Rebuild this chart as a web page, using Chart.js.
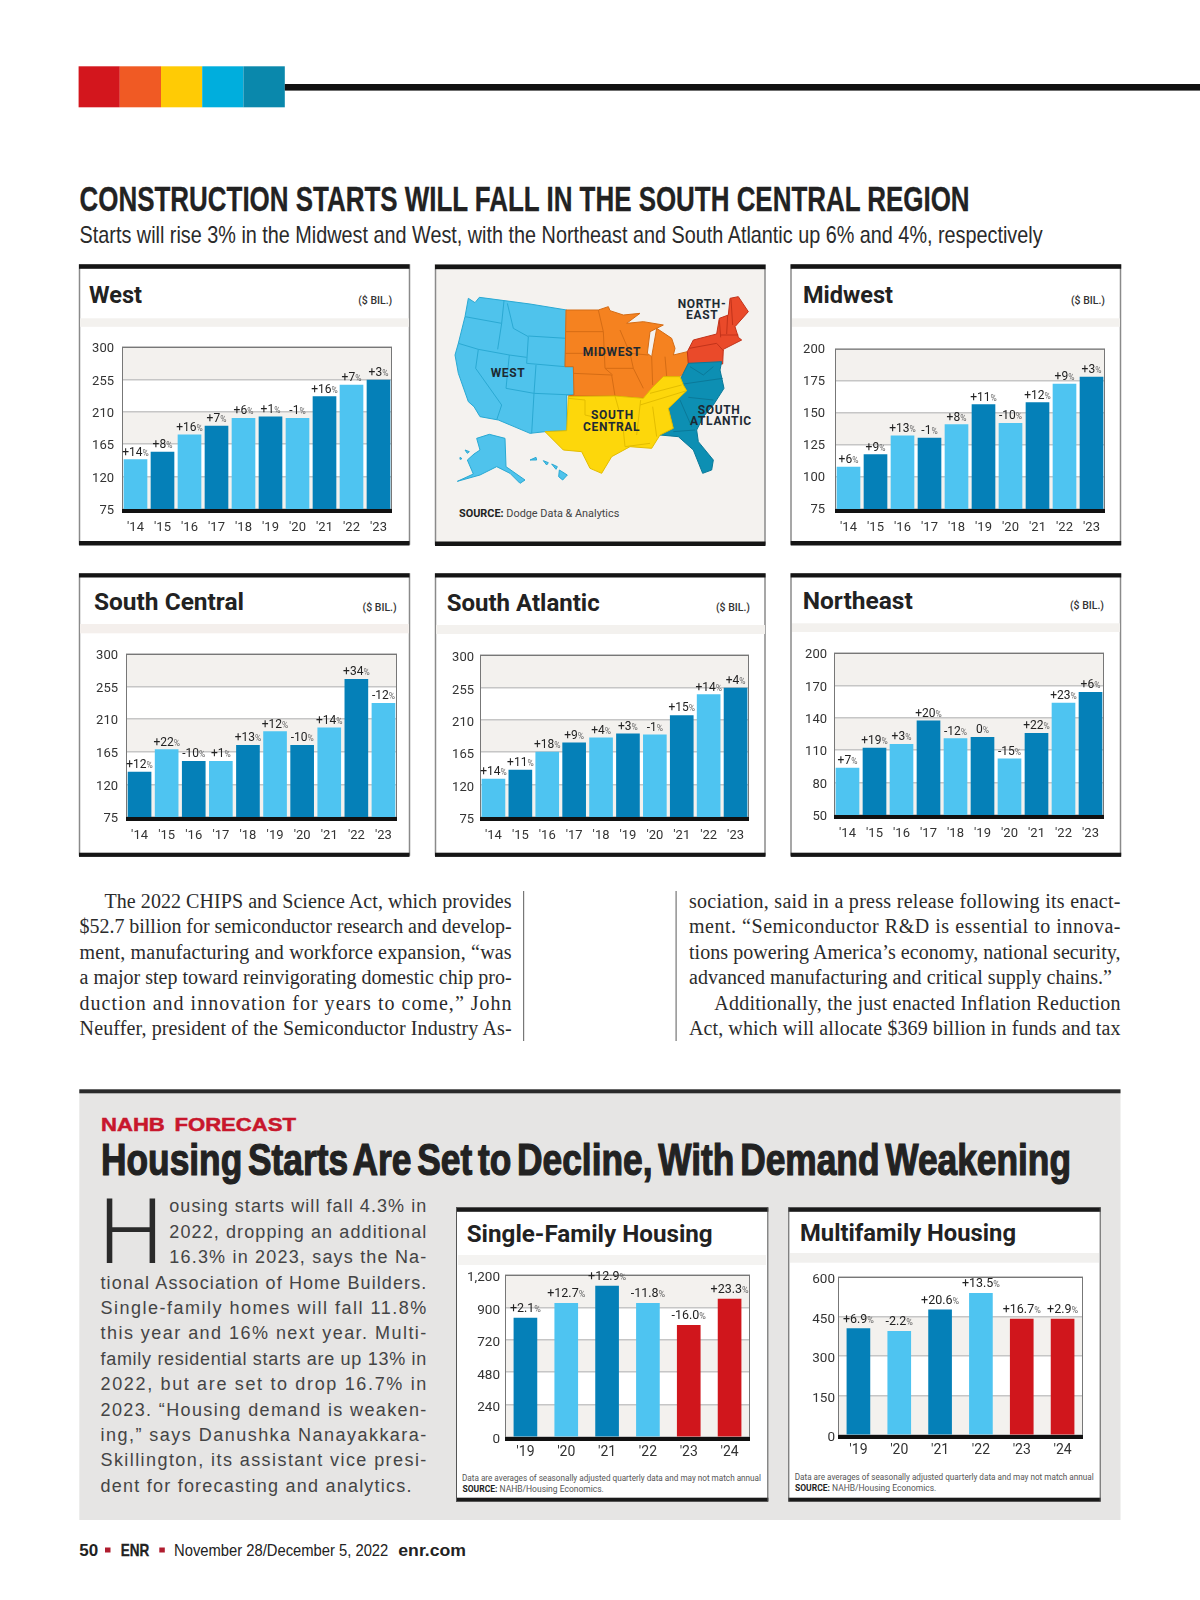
<!DOCTYPE html>
<html>
<head>
<meta charset="utf-8">
<title>Construction starts</title>
<script src="https://cdn.jsdelivr.net/npm/chart.js@4/dist/chart.umd.js"></script>
<style>
  html,body{margin:0;background:#fff;}
  #page{position:relative;width:1200px;height:1600px;overflow:hidden;background:#fff;}
  #page svg{position:absolute;left:0;top:0;}
  canvas{position:absolute;}
  .narrow{font-family:"Liberation Sans Narrow","Liberation Sans",sans-serif;}
  .sans{font-family:"Liberation Sans",sans-serif;}
  .serif{font-family:"Liberation Serif",serif;font-size:20px;fill:#2b2b2b;}
  .ttl{font-family:Roboto,sans-serif;font-weight:700;font-size:24px;fill:#222;}
  .bil{font-family:Roboto,sans-serif;font-weight:500;font-size:10.5px;fill:#333;text-anchor:end;}
  .body{font-family:"Liberation Sans",sans-serif;font-size:18px;fill:#444;}
  .note{font-family:Roboto,sans-serif;font-size:8.5px;fill:#555;}
  .map{font-family:Roboto,sans-serif;font-weight:700;font-size:36px;fill:#1d2a33;letter-spacing:2px;}
  .wst{fill:#4fc3ec;stroke:#2aa9d3;stroke-width:3;stroke-linejoin:round;}
  .mid{fill:#f58220;stroke:#d56c14;stroke-width:3;stroke-linejoin:round;}
  .nea{fill:#ea4a2a;stroke:#c2331a;stroke-width:3;stroke-linejoin:round;}
  .sat{fill:#0d8fb3;stroke:#0a7999;stroke-width:3;stroke-linejoin:round;}
  .sce{fill:#fdd70b;stroke:#e3bd00;stroke-width:3;stroke-linejoin:round;}
  .ln{fill:none;}
</style>
</head>
<body>
<div id="page">
<svg width="1200" height="1600" viewBox="0 0 1200 1600">
  <!-- top colour strip -->
  <rect x="78.6" y="66.3" width="41.2" height="41" fill="#d3161d"/>
  <rect x="119.8" y="66.3" width="41.2" height="41" fill="#f05a24"/>
  <rect x="161" y="66.3" width="41.2" height="41" fill="#ffcb05"/>
  <rect x="202.2" y="66.3" width="41.2" height="41" fill="#00aedd"/>
  <rect x="243.4" y="66.3" width="41.4" height="41" fill="#0a88ac"/>
  <rect x="284.8" y="84" width="915.2" height="6.6" fill="#111"/>

  <text class="narrow" x="79.6" y="211" font-size="34.5" font-weight="700" fill="#222" stroke="#222" stroke-width=".3" textLength="890" lengthAdjust="spacingAndGlyphs">CONSTRUCTION STARTS WILL FALL IN THE SOUTH CENTRAL REGION</text>
  <text class="narrow" x="79.6" y="243" font-size="24" fill="#2a2a2a" textLength="963" lengthAdjust="spacingAndGlyphs">Starts will rise 3% in the Midwest and West, with the Northeast and South Atlantic up 6% and 4%, respectively</text>

  <!-- West panel -->
  <rect x="79.5" y="265" width="330" height="279" fill="#fff" stroke="#8a8a8a" stroke-width="1.5"/>
  <rect x="79" y="264.3" width="330.5" height="4.5" fill="#151515"/>
  <rect x="79" y="541" width="330.5" height="4.5" fill="#151515"/>
  <rect x="80" y="318.3" width="329" height="8.5" fill="#f3f1ee"/>
  <text class="ttl" x="89" y="303" textLength="53" lengthAdjust="spacingAndGlyphs">West</text>
  <text class="bil" x="392.3" y="303.5">($ BIL.)</text>

  <!-- map panel -->
  <rect x="435.5" y="265" width="329.5" height="279" fill="#f4f2ef" stroke="#8a8a8a" stroke-width="1.5"/>
  <rect x="435" y="264.7" width="330.5" height="4.5" fill="#151515"/>
  <rect x="435" y="541.5" width="330.5" height="4.5" fill="#151515"/>
  <svg x="430" y="260" width="350" height="290" viewBox="0 0 1050 870">
    <path class="wst" d="M115,115 L135,128 L148,112 L300,132 L410,150 L405,320 L430,320 L432,405 L410,405 L410,512 L345,515 L300,520 L205,480 L150,470 L132,440 L115,425 L85,340 L75,285 L85,250 L105,170 Z"/>
    <path class="wst ln" d="M105,170 L215,190 M222,122 L215,190 L203,268 M232,130 L250,205 L295,230 L290,310 M85,250 L145,268 L238,285 L290,292 M295,228 L410,235 M290,310 L405,320 M318,315 L312,400 L432,405 M238,285 L228,385 M145,268 L137,325 L215,435 L200,480 M228,385 L312,400 L305,520"/>
    <path class="mid" d="M408,150 L505,150 L535,140 L540,152 L580,165 L630,160 L590,190 L640,185 L700,195 L660,215 L652,280 L665,290 L680,205 L725,235 L735,265 L730,285 L772,275 L775,310 L760,340 L750,350 L700,350 L665,385 L645,415 L555,408 L415,408 L432,405 L430,320 L405,320 Z"/>
    <path class="mid ln" d="M408,215 L520,215 M405,280 L530,280 M430,340 L545,345 L555,408 M505,150 L520,215 L525,325 L548,345 M525,325 L610,325 L640,385 M570,210 L600,280 L610,325 M600,280 L655,285 M665,290 L668,375 M705,290 L710,348"/>
    <path class="nea" d="M772,275 L790,240 L860,222 L868,175 L895,165 L900,115 L925,110 L955,155 L915,200 L925,232 L935,240 L880,268 L878,312 L775,310 Z"/>
    <path class="nea ln" d="M778,265 L860,250 L880,272 M868,180 L872,232 M893,165 L890,222 M903,118 L908,195 M872,225 L925,225"/>
    <path class="sat" d="M775,310 L875,305 L870,330 L882,385 L850,435 L820,470 L800,510 L805,545 L850,600 L845,630 L818,640 L790,570 L745,530 L690,525 L730,505 L715,445 L770,390 L750,360 L760,340 Z"/>
    <path class="sat ln" d="M760,372 L878,355 M780,320 L820,345 L850,320 M775,412 L850,420 M750,420 L785,500 M730,515 L795,510"/>
    <path class="sce" d="M415,410 L555,408 L640,415 L665,385 L700,350 L750,350 L760,375 L770,392 L715,445 L730,505 L690,525 L665,565 L600,560 L545,590 L515,640 L480,625 L455,575 L400,570 L345,515 L410,512 Z"/>
    <path class="sce ln" d="M415,415 L465,420 L465,465 L575,490 M555,408 L578,490 L585,560 L660,550 M632,420 L620,525 M630,435 L770,392 M668,440 L680,530 M660,400 L755,375"/>
    <path class="wst" d="M140,535 L178,523 L225,535 L228,620 L285,660 L270,670 L240,640 L200,620 L150,645 L82,664 L130,642 L112,600 L132,582 L150,570 Z"/>
    <path class="wst" d="M300,600 L318,592 L320,600 Z M340,602 L355,608 L350,615 Z M388,630 L412,645 L398,660 L386,650 Z M365,612 L382,620 L378,628 Z"/>
    <path class="wst" d="M105,570 L118,575 L112,580 Z M90,592 L96,596 L90,598 Z"/>
    <text class="map" x="743" y="143">NORTH-</text>
    <text class="map" x="768" y="176">EAST</text>
    <text class="map" x="182" y="350">WEST</text>
    <text class="map" x="458" y="289">MIDWEST</text>
    <text class="map" x="483" y="478">SOUTH</text>
    <text class="map" x="459" y="513">CENTRAL</text>
    <text class="map" x="803" y="461">SOUTH</text>
    <text class="map" x="780" y="496">ATLANTIC</text>
    <text x="87" y="770" font-family="Roboto,sans-serif" font-size="30" fill="#444" textLength="481" lengthAdjust="spacingAndGlyphs"><tspan font-weight="700" fill="#222">SOURCE:</tspan> Dodge Data &amp; Analytics</text>
  </svg>

  <!-- Midwest panel -->
  <rect x="791" y="265" width="329.5" height="279" fill="#fff" stroke="#8a8a8a" stroke-width="1.5"/>
  <rect x="790.7" y="264.3" width="330.5" height="4.5" fill="#151515"/>
  <rect x="790.7" y="541" width="330.5" height="4.5" fill="#151515"/>
  <rect x="792" y="318.3" width="328" height="8.5" fill="#f3f1ee"/>
  <text class="ttl" x="803" y="303" textLength="90" lengthAdjust="spacingAndGlyphs">Midwest</text>
  <text class="bil" x="1105" y="303.5">($ BIL.)</text>

  <!-- South Central panel -->
  <rect x="79.5" y="574" width="330" height="281" fill="#fff" stroke="#8a8a8a" stroke-width="1.5"/>
  <rect x="79" y="573.3" width="330.5" height="4.2" fill="#151515"/>
  <rect x="79" y="852.7" width="330.5" height="4.2" fill="#151515"/>
  <rect x="80" y="624" width="329" height="9.3" fill="#f4efec"/>
  <text class="ttl" x="94" y="610" textLength="150" lengthAdjust="spacingAndGlyphs">South Central</text>
  <text class="bil" x="396.7" y="610.5">($ BIL.)</text>

  <!-- South Atlantic panel -->
  <rect x="435.5" y="574" width="329.5" height="281" fill="#fff" stroke="#8a8a8a" stroke-width="1.5"/>
  <rect x="435" y="573.3" width="330.5" height="4.2" fill="#151515"/>
  <rect x="435" y="852.7" width="330.5" height="4.2" fill="#151515"/>
  <rect x="436" y="625" width="329" height="9" fill="#f3f1ee"/>
  <text class="ttl" x="446.7" y="610.7" textLength="153" lengthAdjust="spacingAndGlyphs">South Atlantic</text>
  <text class="bil" x="750" y="611">($ BIL.)</text>

  <!-- Northeast panel -->
  <rect x="791" y="574" width="329.5" height="281" fill="#fff" stroke="#8a8a8a" stroke-width="1.5"/>
  <rect x="790.7" y="573.3" width="330.5" height="4.2" fill="#151515"/>
  <rect x="790.7" y="852.7" width="330.5" height="4.2" fill="#151515"/>
  <rect x="792" y="623.3" width="328" height="8.7" fill="#f3f1ee"/>
  <text class="ttl" x="802.7" y="609.3" textLength="110" lengthAdjust="spacingAndGlyphs">Northeast</text>
  <text class="bil" x="1104" y="609">($ BIL.)</text>

  <!-- article columns -->
  <text class="serif" x="104.5" y="907.5" textLength="407">The 2022 CHIPS and Science Act, which provides</text>
  <text class="serif" x="79.6" y="933" textLength="432">$52.7 billion for semiconductor research and develop-</text>
  <text class="serif" x="79.6" y="958.5" textLength="432">ment, manufacturing and workforce expansion, “was</text>
  <text class="serif" x="79.6" y="984" textLength="432">a major step toward reinvigorating domestic chip pro-</text>
  <text class="serif" x="79.6" y="1009.5" textLength="432">duction and innovation for years to come,” John</text>
  <text class="serif" x="79.6" y="1035" textLength="432">Neuffer, president of the Semiconductor Industry As-</text>
  <rect x="523" y="891" width="1.2" height="150" fill="#777"/>
  <rect x="675.5" y="891" width="1.2" height="150" fill="#777"/>
  <text class="serif" x="689" y="907.5" textLength="431.5">sociation, said in a press release following its enact-</text>
  <text class="serif" x="689" y="933" textLength="431.5">ment. “Semiconductor R&amp;D is essential to innova-</text>
  <text class="serif" x="689" y="958.5" textLength="431.5">tions powering America’s economy, national security,</text>
  <text class="serif" x="689" y="984" textLength="423">advanced manufacturing and critical supply chains.”</text>
  <text class="serif" x="714.3" y="1009.5" textLength="406.2">Additionally, the just enacted Inflation Reduction</text>
  <text class="serif" x="689" y="1035" textLength="431.5">Act, which will allocate $369 billion in funds and tax</text>

  <!-- NAHB box -->
  <rect x="79.3" y="1090" width="1041.2" height="430" fill="#e6e5e4"/>
  <rect x="79.3" y="1089.3" width="1041.2" height="4" fill="#2a2a2a"/>
  <text class="sans" x="101" y="1130.5" font-size="19" font-weight="700" fill="#c8172c" stroke="#c8172c" stroke-width=".5" word-spacing="3" textLength="195" lengthAdjust="spacingAndGlyphs">NAHB FORECAST</text>
  <text class="narrow" x="101" y="1175" font-size="44" font-weight="700" fill="#222" stroke="#222" stroke-width="1.2" word-spacing="-5" textLength="970" lengthAdjust="spacingAndGlyphs">Housing Starts Are Set to Decline, With Demand Weakening</text>
  <text font-family="Roboto,sans-serif" font-weight="300" font-size="91" fill="#2a2a2a" x="98.5" y="1263.3" textLength="65" lengthAdjust="spacingAndGlyphs">H</text>
  <text class="body" x="169.3" y="1212.3" textLength="257">ousing starts will fall 4.3% in</text>
  <text class="body" x="169.3" y="1237.7" textLength="257">2022, dropping an additional</text>
  <text class="body" x="169.3" y="1263.1" textLength="257">16.3% in 2023, says the Na-</text>
  <text class="body" x="100.5" y="1288.5" textLength="325.8">tional Association of Home Builders.</text>
  <text class="body" x="100.5" y="1313.9" textLength="325.8">Single-family homes will fall 11.8%</text>
  <text class="body" x="100.5" y="1339.3" textLength="325.8">this year and 16% next year. Multi-</text>
  <text class="body" x="100.5" y="1364.7" textLength="325.8">family residential starts are up 13% in</text>
  <text class="body" x="100.5" y="1390.1" textLength="325.8">2022, but are set to drop 16.7% in</text>
  <text class="body" x="100.5" y="1415.5" textLength="325.8">2023. “Housing demand is weaken-</text>
  <text class="body" x="100.5" y="1440.9" textLength="325.8">ing,” says Danushka Nanayakkara-</text>
  <text class="body" x="100.5" y="1466.3" textLength="325.8">Skillington, its assistant vice presi-</text>
  <text class="body" x="100.5" y="1491.7" textLength="311">dent for forecasting and analytics.</text>

  <!-- Single-family panel -->
  <rect x="456.5" y="1208" width="311.5" height="292" fill="#fff"/>
  <rect x="456" y="1207.3" width="312.3" height="4.5" fill="#1a1a1a"/>
  <rect x="456" y="1497.7" width="312.3" height="4" fill="#1a1a1a"/>
  <rect x="456" y="1207.3" width="1" height="294" fill="#555"/>
  <rect x="767.3" y="1207.3" width="1" height="294" fill="#555"/>
  <rect x="458" y="1255" width="308" height="10" fill="#f4f3f1"/>
  <text class="ttl" x="466.7" y="1241.7" textLength="246" lengthAdjust="spacingAndGlyphs">Single-Family Housing</text>
  <text class="note" x="462" y="1481" textLength="299" lengthAdjust="spacingAndGlyphs">Data are averages of seasonally adjusted quarterly data and may not match annual</text>
  <text class="note" x="462.5" y="1492.3"><tspan font-weight="700" fill="#222">SOURCE:</tspan> NAHB/Housing Economics.</text>

  <!-- Multifamily panel -->
  <rect x="788.8" y="1208" width="311.5" height="292" fill="#fff"/>
  <rect x="788.3" y="1207.3" width="312.4" height="4.5" fill="#1a1a1a"/>
  <rect x="788.3" y="1497.7" width="312.4" height="4" fill="#1a1a1a"/>
  <rect x="788.3" y="1207.3" width="1" height="294" fill="#555"/>
  <rect x="1099.7" y="1207.3" width="1" height="294" fill="#555"/>
  <rect x="790" y="1253" width="309" height="9.7" fill="#f1f0ee"/>
  <text class="ttl" x="800" y="1240.7" textLength="216" lengthAdjust="spacingAndGlyphs">Multifamily Housing</text>
  <text class="note" x="794.7" y="1480" textLength="299" lengthAdjust="spacingAndGlyphs">Data are averages of seasonally adjusted quarterly data and may not match annual</text>
  <text class="note" x="795" y="1491.3"><tspan font-weight="700" fill="#222">SOURCE:</tspan> NAHB/Housing Economics.</text>

  <!-- footer -->
  <text class="narrow" x="79.3" y="1556" font-size="17" font-weight="700" fill="#222">50</text>
  <rect x="105" y="1547.5" width="5.5" height="5" fill="#b01c2e"/>
  <text class="narrow" x="120.7" y="1556" font-size="17" font-weight="700" fill="#222" stroke="#222" stroke-width=".3" textLength="28.5" lengthAdjust="spacingAndGlyphs">ENR</text>
  <rect x="159.3" y="1547.5" width="5.5" height="5" fill="#b01c2e"/>
  <text class="narrow" x="174" y="1556" font-size="17" fill="#222" textLength="214.3" lengthAdjust="spacingAndGlyphs">November 28/December 5, 2022</text>
  <text class="sans" x="398.3" y="1556" font-size="17" font-weight="700" fill="#222" textLength="67.7" lengthAdjust="spacingAndGlyphs">enr.com</text>
</svg>
</div>

<script>
const years14 = ["'14","'15","'16","'17","'18","'19","'20","'21","'22","'23"];
const years19 = ["'19","'20","'21","'22","'23","'24"];

const westValues = [143.5,154,178,190,201,203,201,231,247,254];
const westChanges = ['+14','+8','+16','+7','+6','+1','-1','+16','+7','+3'];
const westTicks = ['75','120','165','210','255','300'];

const midwestValues = [107.7,117.4,132,130.3,140.8,156.5,141.9,158,172.5,178];
const midwestChanges = ['+6','+9','+13','-1','+8','+11','-10','+12','+9','+3'];
const midwestTicks = ['75','100','125','150','175','200'];

const southCentralValues = [137,168,152,152,174,193,174,198,265,232];
const southCentralChanges = ['+12','+22','-10','+1','+13','+12','-10','+14','+34','-12'];
const southCentralTicks = ['75','120','165','210','255','300'];

const southAtlanticValues = [127.7,140,165,178,185,190.5,189,216,245,254];
const southAtlanticChanges = ['+14','+11','+18','+9','+4','+3','-1','+15','+14','+4'];
const southAtlanticTicks = ['75','120','165','210','255','300'];

const northeastValues = [93.5,112,115.4,137.3,120.7,122,101.9,125.6,153.7,163.6];
const northeastChanges = ['+7','+19','+3','+20','-12','0','-15','+22','+23','+6'];
const northeastTicks = ['50','80','110','140','170','200'];

const singleFamilyValues = [881,990,1118,990,827,1022];
const singleFamilyChanges = ['+2.1','+12.7','+12.9','-11.8','-16.0','+23.3'];
const singleFamilyTicks = ['0','240','480','720','900','1,200'];

const multifamilyValues = [404,394,475,538,440,440];
const multifamilyChanges = ['+6.9','-2.2','+20.6','+13.5','+16.7','+2.9'];
const multifamilyTicks = ['0','150','300','450','600'];

const LIGHT = '#4ec4f1', DARK = '#0580b8', RED = '#d0161c';
const lightFirst = [LIGHT,DARK,LIGHT,DARK,LIGHT,DARK,LIGHT,DARK,LIGHT,DARK];
const darkFirst = [DARK,LIGHT,DARK,LIGHT,DARK,LIGHT,DARK,LIGHT,DARK,LIGHT];
const housingColors = [DARK,LIGHT,DARK,LIGHT,RED,RED];

const page = document.getElementById('page');

function num(s){ return parseFloat(s.replace(',','')); }

// bands behind the grid, base bar and frame over the bars, change labels on top
function panelPlugin(changes, big){
  return {
    id:'panel',
    beforeDraw(chart){
      const {ctx,chartArea:a,scales:{y}} = chart;
      const ticks = y.ticks;
      ctx.save();
      ctx.fillStyle = '#f3f1ee';
      for(let i=0;i<ticks.length-1;i+=2){
        const y0 = y.getPixelForValue(ticks[i].value), y1 = y.getPixelForValue(ticks[i+1].value);
        ctx.fillRect(a.left,y1,a.width,y0-y1);
      }
      ctx.restore();
    },
    afterDatasetsDraw(chart){
      const {ctx,chartArea:a} = chart;
      ctx.save();
      ctx.strokeStyle = '#777';
      ctx.lineWidth = 1;
      ctx.strokeRect(a.left+.5,a.top+.5,a.width-1,a.height);
      ctx.fillStyle = '#111';
      ctx.fillRect(a.left,a.bottom,a.width,4);
      const size = big ? 12.5 : 12, small = big ? 9 : 8.5;
      ctx.textBaseline = 'alphabetic';
      chart.getDatasetMeta(0).data.forEach((bar,i)=>{
        ctx.font = `${size}px Roboto`;
        const w1 = ctx.measureText(changes[i]).width;
        ctx.font = `${small}px Roboto`;
        const w2 = ctx.measureText('%').width;
        const x = bar.x-(w1+w2)/2, yy = bar.y-(big?6:4);
        ctx.font = `${size}px Roboto`;
        ctx.fillStyle = '#222';
        ctx.fillText(changes[i],x,yy);
        ctx.font = `${small}px Roboto`;
        ctx.fillStyle = '#666';
        ctx.fillText('%',x+w1,yy);
      });
      ctx.restore();
    }
  };
}

function drawPanel(id, labels, values, changes, tickLabels, colors, box){
  const padL = 50, padT = 16, padR = 10, padB = 32;
  const big = labels.length===6;
  const canvas = document.createElement('canvas');
  canvas.id = id;
  canvas.width = box.r-box.l+padL+padR;
  canvas.height = box.b-box.t+padT+padB;
  canvas.style.left = (box.l-padL)+'px';
  canvas.style.top = (box.t-padT)+'px';
  page.appendChild(canvas);
  const min = num(tickLabels[0]), max = num(tickLabels[tickLabels.length-1]);
  new Chart(canvas,{
    type:'bar',
    data:{labels,datasets:[{data:values,backgroundColor:colors,barThickness:23,borderWidth:0}]},
    options:{
      responsive:false,
      animation:false,
      devicePixelRatio:1,
      layout:{padding:{top:padT,right:padR,left:0,bottom:0}},
      plugins:{legend:{display:false},tooltip:{enabled:false},title:{display:false}},
      scales:{
        x:{
          afterFit(s){ s.height = padB; },
          grid:{display:false,drawTicks:false},
          border:{display:false},
          ticks:{color:'#333',font:{family:'Roboto',size:big?14:13},padding:box.xPad,maxRotation:0,autoSkip:false}
        },
        y:{
          min,max,
          afterFit(s){ s.width = padL; },
          grid:{color:'#c6c6c6',lineWidth:1.5,drawTicks:false},
          border:{display:false},
          ticks:{stepSize:(max-min)/(tickLabels.length-1),autoSkip:false,color:'#333',font:{family:'Roboto',size:big?13.5:13},padding:box.yPad,labelOffset:box.yOff,
            callback:(v,i)=>tickLabels[i]}
        }
      }
    },
    plugins:[panelPlugin(changes,big)]
  });
}

drawPanel('west',years14,westValues,westChanges,westTicks,lightFirst,{l:122,t:347,r:392,b:509,xPad:11,yPad:8,yOff:2});
drawPanel('midwest',years14,midwestValues,midwestChanges,midwestTicks,lightFirst,{l:835,t:347,r:1105,b:509,xPad:11,yPad:10,yOff:1});
drawPanel('southCentral',years14,southCentralValues,southCentralChanges,southCentralTicks,darkFirst,{l:126,t:654,r:397,b:817,xPad:11,yPad:8,yOff:2});
drawPanel('southAtlantic',years14,southAtlanticValues,southAtlanticChanges,southAtlanticTicks,lightFirst,{l:480,t:655,r:749,b:817,xPad:11,yPad:6,yOff:3});
drawPanel('northeast',years14,northeastValues,northeastChanges,northeastTicks,lightFirst,{l:834,t:653,r:1104,b:815,xPad:11,yPad:7,yOff:2});
drawPanel('singleFamily',years19,singleFamilyValues,singleFamilyChanges,singleFamilyTicks,housingColors,{l:505,t:1275,r:750,b:1437,xPad:7,yPad:5,yOff:3});
drawPanel('multifamily',years19,multifamilyValues,multifamilyChanges,multifamilyTicks,housingColors,{l:838,t:1277,r:1083,b:1435,xPad:7,yPad:3,yOff:3});
</script>
</body>
</html>
